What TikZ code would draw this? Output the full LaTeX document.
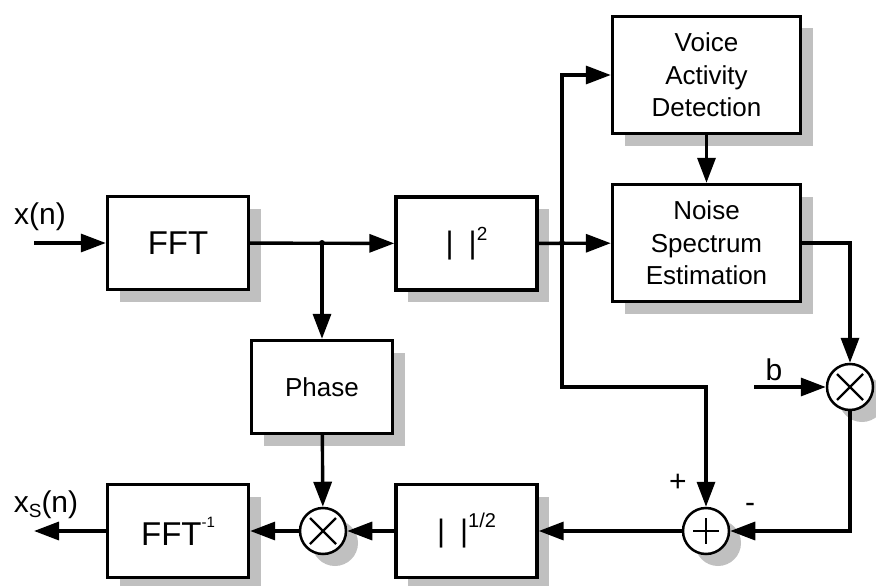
\documentclass[tikz,border=0pt]{standalone}
\usepackage{fontspec}
\setmainfont{Liberation Sans}
\usetikzlibrary{arrows.meta,shadows}
\definecolor{shadowgray}{RGB}{192,192,192}
\newcommand{\fs}[1]{\fontsize{#1}{1.25\dimexpr#1pt\relax}\selectfont}
\newcommand{\supr}[3]{\raisebox{#2}{\fontsize{#1}{#1}\selectfont #3}}
\tikzset{
  x=1pt, y=-1pt,
  shade/.style={drop shadow={shadow xshift=12pt, shadow yshift=-12pt,
      fill=shadowgray, opacity=1}},
  blk/.style={draw, line width=3.4pt, fill=white, inner sep=0pt,
      minimum width=141pt, minimum height=93pt, align=center, shade},
  junc/.style={circle, draw, line width=2.5pt, fill=white, inner sep=0pt,
      minimum size=46pt, shade},
  conn/.style={line width=3.4pt, -{Triangle[length=25pt,width=18pt]}},
  sym/.style={line width=2.4pt},
  lbl/.style={inner sep=0pt, font=\fs{30}},
  dot/.style={circle, fill=black, inner sep=0pt, minimum size=6pt}
}
\begin{document}
\begin{tikzpicture}
\useasboundingbox (0,0) rectangle (876,586);

% processing blocks
\node[blk, font=\fs{33}] (fft) at (178,243) {FFT};
\node[blk, font=\fs{31}] (sq) at (466.5,243.5) {|\hspace{15pt}|\supr{19}{13pt}{2}};
\node[blk, minimum width=188pt, minimum height=117pt, font=\fs{26}] (vad) at (706.5,75) {Voice\\Activity\\Detection};
\node[blk, minimum width=188pt, minimum height=117pt, font=\fs{26}] (nse) at (706.5,243) {Noise\\Spectrum\\Estimation};
\node[blk, font=\fs{26}] (ph) at (322,387) {Phase};
\node[blk, font=\fs{31}] (rt) at (466.5,531) {|\hspace{15pt}|\supr{20}{14pt}{1/2}};
\node[blk, font=\fs{33}] (ifft) at (178,531) {FFT\supr{15}{18pt}{-1}};

% multipliers and summer
\node[junc] (m1) at (323,531) {};
\node[junc] (m2) at (850,387) {};
\node[junc] (sum) at (706,531) {};
\draw[sym] ([shift={(-13,-13)}]m1.center) -- ([shift={(13,13)}]m1.center)
           ([shift={(-13,13)}]m1.center) -- ([shift={(13,-13)}]m1.center);
\draw[sym] ([shift={(-13,-13)}]m2.center) -- ([shift={(13,13)}]m2.center)
           ([shift={(-13,13)}]m2.center) -- ([shift={(13,-13)}]m2.center);
\draw[sym] ([shift={(-13,0)}]sum.center) -- ([shift={(13,0)}]sum.center)
           ([shift={(0,-13)}]sum.center) -- ([shift={(0,13)}]sum.center);

% free ends and branch points
\coordinate (xin) at (34,243);
\coordinate (xout) at (34,531);
\coordinate (bin) at (754,387);
\coordinate (j1) at (322,243);
\coordinate (j2) at (562,243);
\coordinate (c1) at (562,387);

% connectors
\draw[conn] (xin) -- (fft);
\draw[conn] (fft) -- (sq);
\draw[conn] (j1) -- (ph);
\draw[conn] (sq) -- (nse);
\draw[conn] (j2) |- (vad);
\draw[conn] (j2) -- (c1) -| (sum);
\draw[conn] (vad) -- (nse);
\draw[conn] (nse) -| (m2);
\draw[conn] (bin) -- (m2);
\draw[conn] (m2) |- (sum);
\draw[conn] (sum) -- (rt);
\draw[conn] (rt) -- (m1);
\draw[conn] (ph) -- (m1);
\draw[conn] (m1) -- (ifft);
\draw[conn] (ifft) -- (xout);
\node[dot] at (j1) {};
\node[dot] at (j2) {};

% labels
\node[lbl] at (40,217) {x(n)};
\node[lbl] at (46,505) {x\supr{19}{-5pt}{S}(n)};
\node[lbl] at (774,370) {b};
\node[lbl] at (678,483) {+};
\node[lbl] at (750,508) {-};
\end{tikzpicture}
\end{document}
